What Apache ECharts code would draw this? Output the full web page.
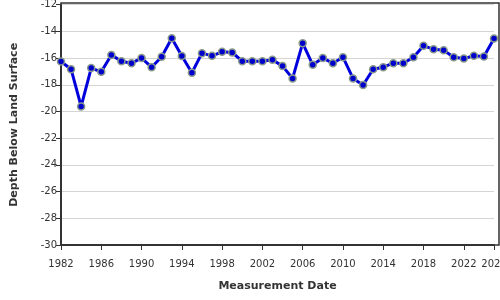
<!DOCTYPE html>
<html><head><meta charset="utf-8">
<script src="https://cdn.jsdelivr.net/npm/echarts@6/dist/echarts.min.js"></script>
<style>html,body{margin:0;padding:0;background:#fff}#c{width:500px;height:300px}</style>
</head><body><div id="c"></div>
<script>
const years = [1982,1983,1984,1985,1986,1987,1988,1989,1990,1991,1992,1993,1994,1995,1996,1997,1998,1999,2000,2001,2002,2003,2004,2005,2006,2007,2008,2009,2010,2011,2012,2013,2014,2015,2016,2017,2018,2019,2020,2021,2022,2023,2024,2025];
const depths = [-16.26,-16.83,-19.62,-16.75,-17.03,-15.76,-16.23,-16.38,-16.0,-16.68,-15.9,-14.51,-15.85,-17.1,-15.63,-15.83,-15.53,-15.58,-16.23,-16.23,-16.23,-16.13,-16.6,-17.52,-14.88,-16.5,-16.0,-16.38,-15.93,-17.52,-18.02,-16.83,-16.68,-16.38,-16.38,-15.93,-15.08,-15.33,-15.41,-15.93,-16.03,-15.83,-15.88,-14.54];
const xTitle = 'Measurement Date';
const yTitle = 'Depth Below Land Surface';

const chart = echarts.init(document.getElementById('c'), null, {renderer:'canvas'});
const font = 'DejaVu Sans';
chart.setOption({
  animation:false,
  grid:{left:61, right:6, top:4.7, bottom:55, containLabel:false, outerBoundsMode:'none'},
  graphic:[{type:'rect', shape:{x:61, y:3, width:438, height:242}, style:{fill:'none', stroke:'#333', lineWidth:1.5}, z:-1}],
  xAxis:{type:'value', min:1982, max:2025, interval:4,
    name:xTitle, nameLocation:'middle', nameGap:36,
    nameTextStyle:{fontFamily:font, fontWeight:'bold', fontSize:11, color:'#333'},
    axisLine:{lineStyle:{color:'#333', width:2}},
    axisTick:{show:true, length:5, lineStyle:{color:'#333'}},
    axisLabel:{fontFamily:font, fontSize:10, color:'#333', margin:14, showMaxLabel:true, alignMaxLabel:'center', hideOverlap:false, formatter:v=>String(v)},
    splitLine:{show:false}},
  yAxis:{type:'value', min:-30, max:-12, interval:2,
    name:yTitle, nameLocation:'middle', nameGap:41,
    nameTextStyle:{fontFamily:font, fontWeight:'bold', fontSize:11, color:'#333'},
    axisLine:{show:true, lineStyle:{color:'#333', width:2}},
    axisTick:{show:true, length:5, lineStyle:{color:'#333'}},
    axisLabel:{fontFamily:font, fontSize:10, color:'#333', margin:4},
    splitLine:{show:true, lineStyle:{color:'#d4d4d4', width:1}}},
  series:[{type:'line', data:years.map((y,i)=>[y,depths[i]]),
    symbol:'circle', symbolSize:7,
    lineStyle:{color:'#0000dd', width:3},
    itemStyle:{color:'#0000cc', borderColor:'#8a9a8a', borderWidth:1.5},
    clip:false}]
});
</script></body></html>
